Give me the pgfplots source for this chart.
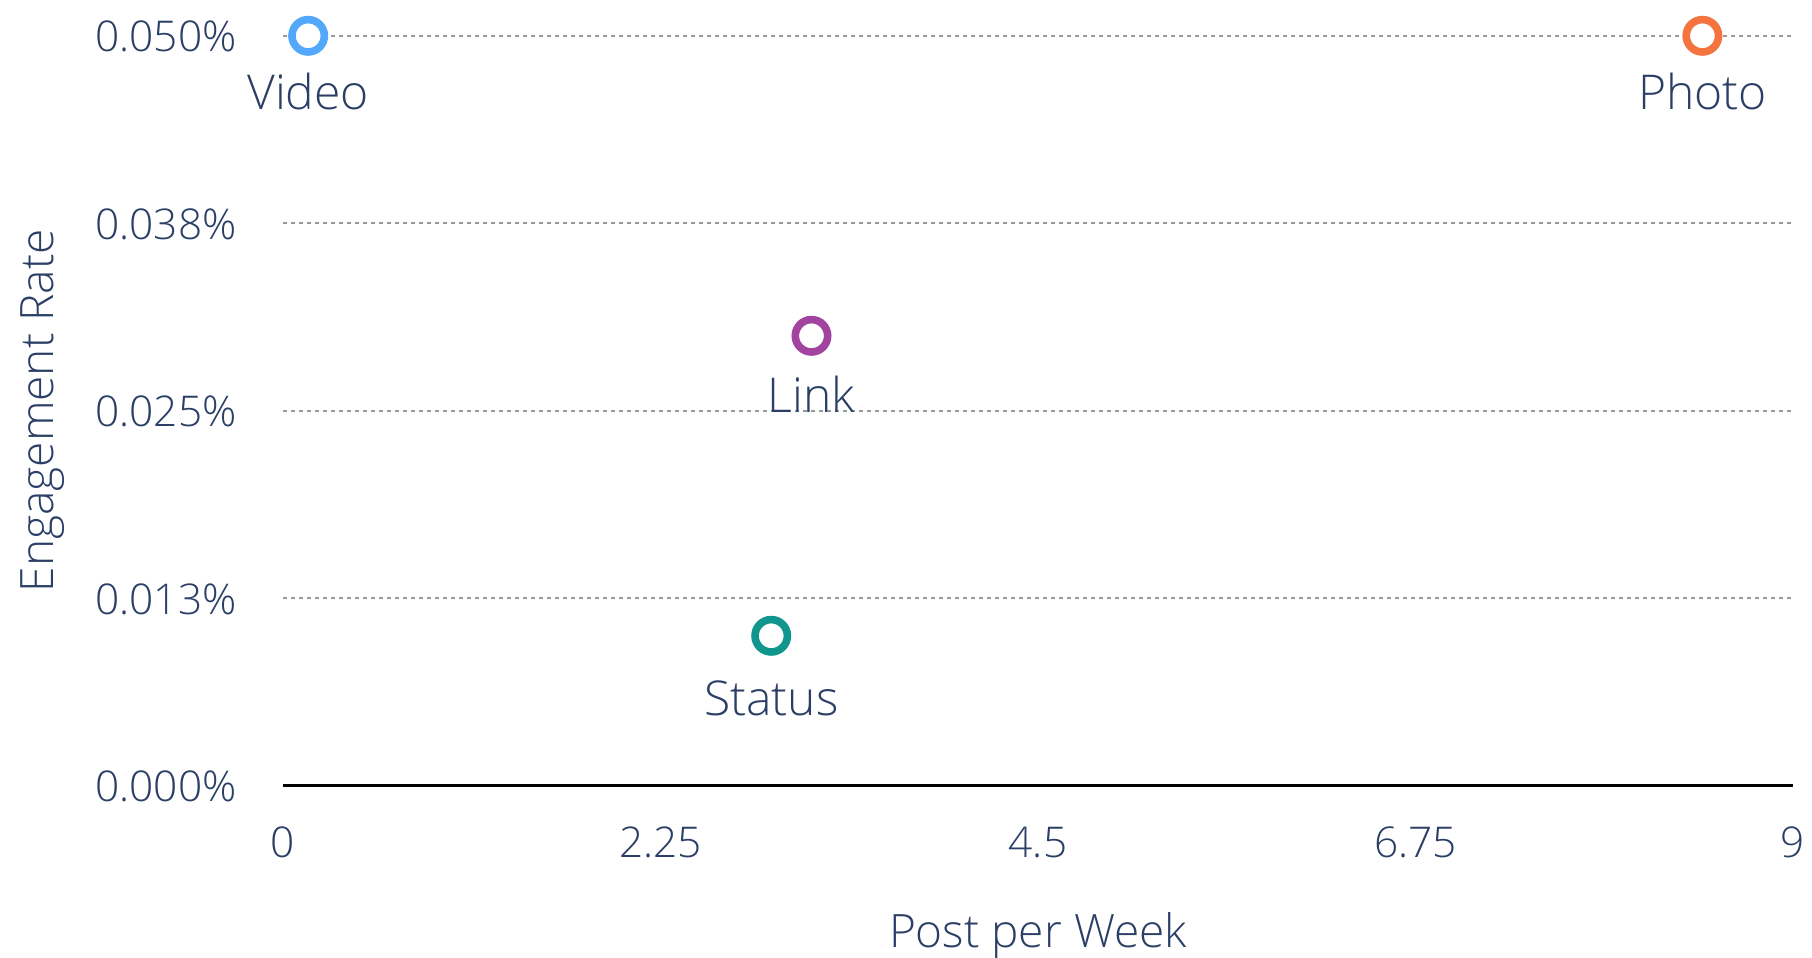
\documentclass[border=0pt]{standalone}
\usepackage{fontspec}
\setmainfont{Open Sans}[UprightFont={* Light}]
\usepackage{pgfplots}
\pgfplotsset{compat=1.18}
\definecolor{txt}{HTML}{2B3F66}
\definecolor{cvideo}{HTML}{52A8FA}
\definecolor{cphoto}{HTML}{F4733E}
\definecolor{clink}{HTML}{A1439F}
\definecolor{cstatus}{HTML}{10968D}
\definecolor{gridc}{HTML}{999999}
\begin{document}
\begin{tikzpicture}
\useasboundingbox (-141.5pt,-86.1pt) rectangle (764.5pt,392.9pt);
\begin{axis}[
  at={(0,0)}, anchor=south west,
  scale only axis, width=755pt, height=375pt,
  xmin=0, xmax=9, ymin=0, ymax=0.05,
  clip=false,
  xtick={0,2.25,4.5,6.75,9},
  xticklabels={0,2.25,4.5,6.75,9},
  ytick={0,0.0125,0.025,0.0375,0.05},
  yticklabels={0.000\%,0.013\%,0.025\%,0.038\%,0.050\%},
  scaled y ticks=false, scaled x ticks=false,
  major tick length=0pt, tick style={draw=none},
  axis x line*=bottom, axis y line*=left,
  x axis line style={-, black, line width=1.5pt},
  y axis line style={draw=none},
  ymajorgrids=true,
  major grid style={gridc, line width=1.1pt, dash pattern=on 2pt off 2pt},
  ticklabel style={font=\fontsize{21.2}{25}\selectfont, text=txt, inner sep=0pt},
  xticklabel style={anchor=base, yshift=-36pt},
  yticklabel style={anchor=base east, xshift=-23pt, yshift=-8pt},
  xlabel={Post per Week},
  ylabel={Engagement Rate},
  every axis x label/.style={at={(axis description cs:0.5,0)}, anchor=base, yshift=-81pt, font=\fontsize{23}{27}\selectfont, text=txt, inner sep=0pt},
  every axis y label/.style={at={(axis description cs:-0.152,0.5)}, anchor=base, rotate=90, font=\fontsize{23}{27}\selectfont, text=txt, inner sep=0pt},
]
\addplot[only marks, mark=*, mark size=8.1pt, mark options={draw=cvideo, fill=white, line width=3.8pt}]
  coordinates {(0.15,0.05)} node[anchor=base, yshift=-37pt, inner sep=0pt, font=\fontsize{24}{28}\selectfont, text=txt] {Video};
\addplot[only marks, mark=*, mark size=8.1pt, mark options={draw=cphoto, fill=white, line width=3.8pt}]
  coordinates {(8.46,0.05)} node[anchor=base, yshift=-37pt, inner sep=0pt, font=\fontsize{24}{28}\selectfont, text=txt] {Photo};
\addplot[only marks, mark=*, mark size=8.1pt, mark options={draw=clink, fill=white, line width=3.8pt}]
  coordinates {(3.15,0.030)} node[anchor=base, yshift=-38.5pt, inner sep=0pt, font=\fontsize{24}{28}\selectfont, text=txt] {Link};
\addplot[only marks, mark=*, mark size=8.1pt, mark options={draw=cstatus, fill=white, line width=3.8pt}]
  coordinates {(2.91,0.010)} node[anchor=base, yshift=-40pt, inner sep=0pt, font=\fontsize{24}{28}\selectfont, text=txt] {Status};
\end{axis}
\end{tikzpicture}
\end{document}
